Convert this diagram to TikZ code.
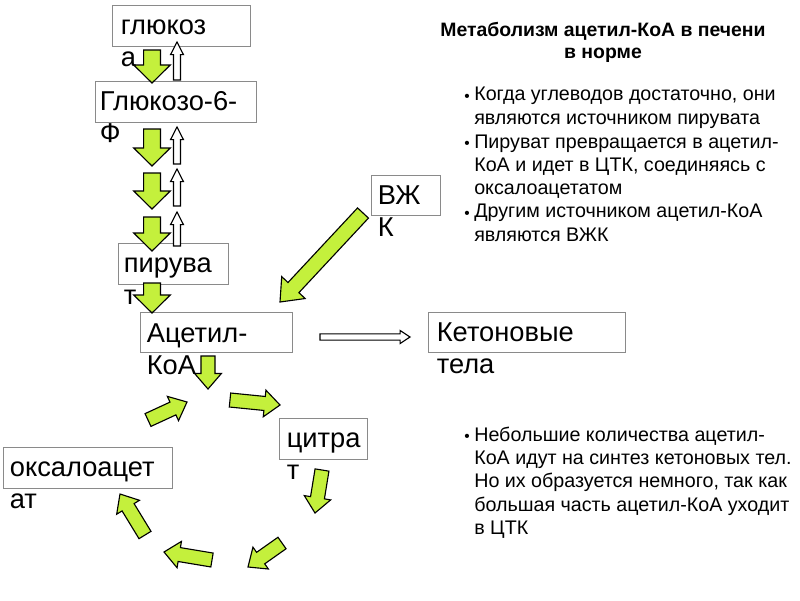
\documentclass[tikz,border=0pt]{standalone}
\usepackage{fontspec}
\setmainfont{Liberation Sans}
\usetikzlibrary{calc,positioning}
\definecolor{leaf}{HTML}{C4F03C}
\definecolor{frame}{HTML}{8A8A8A}
\tikzset{box/.style 2 args={draw=frame,line width=.6pt,minimum width=#1*0.25mm,minimum height=#2*0.25mm,inner sep=0pt}, boxtext/.style={anchor=base west,align=left,inner sep=0pt,font=\fontsize{19.4}{22.8}\selectfont},leafarrow/.style={draw=black,fill=leaf,line width=.8pt,line join=miter},hollowarrow/.style={draw=black,fill=white,line width=.8pt,line join=miter}, note/.style={anchor=base west,align=left,inner sep=0pt,font=\fontsize{14}{16.6}\selectfont},heading/.style={anchor=base,align=center,inner sep=0pt,font=\bfseries\fontsize{13.8}{15.6}\selectfont},dot/.style={anchor=base east,inner sep=0pt,font=\fontsize{11}{13}\selectfont}}
% block arrow: [style]{shaft half}{head half}{head length}{tail}{tip}
\newcommand{\blockarrow}[6][leafarrow]{%
 \draw[#1] let \p1=($(#6)-(#5)$), \n1={atan2(\y1,\x1)}, \n2={veclen(\x1,\y1)} in
  ($(#5)+(\n1+90:#2)$) -- ($(#5)+(\n1:\n2-#4)+(\n1+90:#2)$) -- ($(#5)+(\n1:\n2-#4)+(\n1+90:#3)$)
  -- (#6) -- ($(#5)+(\n1:\n2-#4)+(\n1-90:#3)$) -- ($(#5)+(\n1:\n2-#4)+(\n1-90:#2)$)
  -- ($(#5)+(\n1-90:#2)$) -- cycle;}

\begin{document}
\begin{tikzpicture}[x=0.025cm,y=-0.025cm]
\useasboundingbox (0,0) rectangle (800,600);
% boxes, text runs out of them (base = last line)
\foreach \nm/\cx/\cy/\w/\h/\dx/\txt in {glc/181/25.5/138/41/9/глюкоз\\а, gsf/175.5/101.5/161/41/5/Глюкозо-6-\\Ф, pyr/173/263.5/110/41/6/пирува\\т, acoa/216/332.5/152/40/7/Ацетил-\\КоА, vzhk/405.5/195/69/40/7/ВЖ\\К, keton/526.5/332/197/40/9/Кетоновые\\тела, citr/323/438.5/88/41/8/цитра\\т, oxal/87.5/467.5/169/41/7/оксалоацет\\ат}{
 \node[box={\w}{\h}] (\nm) at (\cx,\cy) {};
 \node[boxtext] (\nm-t) at ([shift={(\dx,62)}]\nm.north west) {\txt};
}
% glycolysis column
\foreach \a/\b in {50/83,129/166,173/209,217/251,283/313}
 \blockarrow{6pt}{13pt}{12.8pt}{152,\a}{152,\b};
\foreach \a/\b in {80/42,164/127,206/169,246/212}
 \blockarrow[hollowarrow]{2.5pt}{4.6pt}{9pt}{177,\a}{177,\b};
% TCA cycle
\foreach \xa/\ya/\xb/\yb in {208/356/208/389,230/400/280/405,322/470/315/513,282/543/248/567,212/560/164/552,145/535/120/494,148/420/187/402}
 \blockarrow{5pt}{9.5pt}{11pt}{\xa,\ya}{\xb,\yb};
\blockarrow{5.3pt}{11.4pt}{14pt}{363,213}{280,302}
\blockarrow[hollowarrow]{2.2pt}{4.6pt}{7pt}{320,337}{410,337}
% notes
\node[heading] (title) at (603,58) {Метаболизм ацетил-КоА в печени\\в норме};
\node[note] (n1) at (474,124.3) {Когда углеводов достаточно, они\\являются источником пирувата};
\node[note] (n2) at (474,194.7) {Пируват превращается в ацетил-\\КоА и идет в ЦТК, соединяясь с\\оксалоацетатом};
\node[note] (n3) at (474,241.3) {Другим источником ацетил-КоА\\являются ВЖК};
\node[note] (n4) at (474,534.4) {Небольшие количества ацетил-\\КоА идут на синтез кетоновых тел.\\Но их образуется немного, так как\\большая часть ацетил-КоА уходит\\в ЦТК};
\foreach \y in {101,148,218,441}
 \node[dot] (b\y) at (470,\y) {•};
\end{tikzpicture}
\end{document}
